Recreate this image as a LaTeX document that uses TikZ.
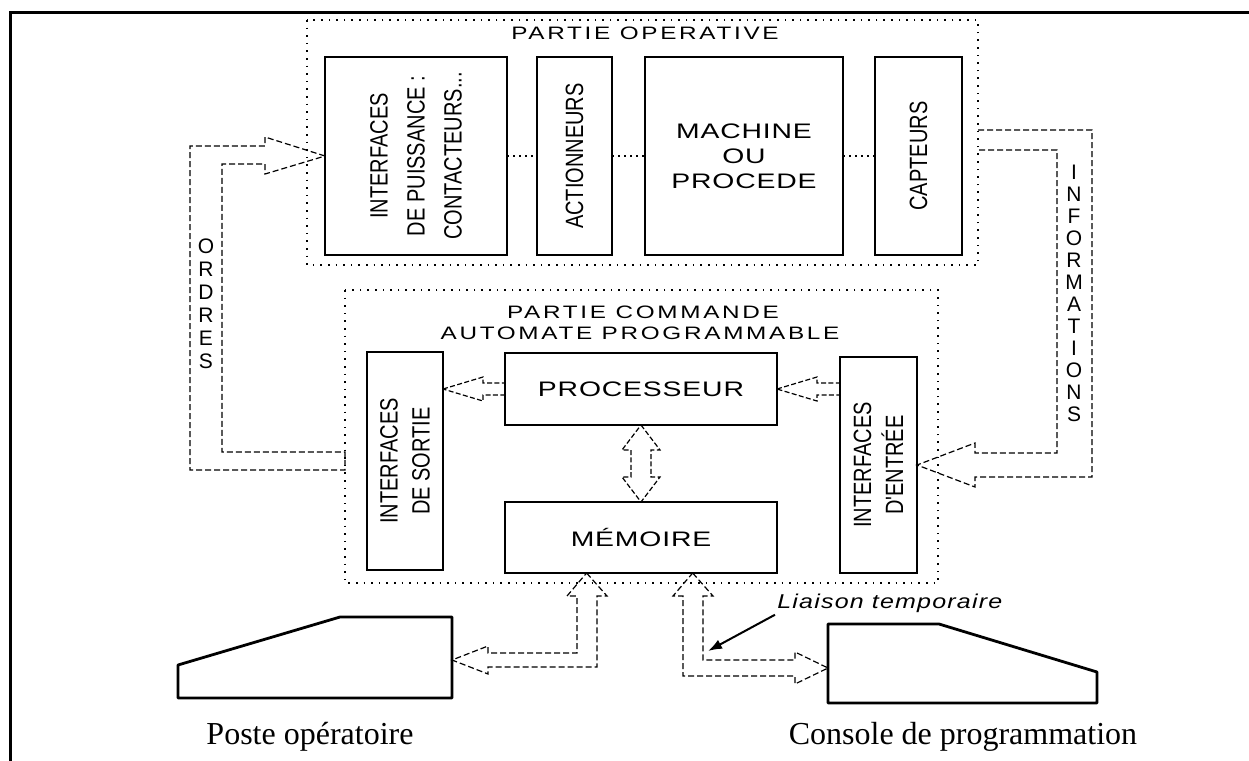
\documentclass[tikz,border=0pt]{standalone}
\usepackage{fontspec}
\setmainfont{Liberation Serif}
\setsansfont{Liberation Sans}
\newfontfamily\titrefont[FakeStretch=1.35,LetterSpace=15]{Liberation Sans}
\newfontfamily\blocfont[FakeStretch=1.35,LetterSpace=4]{Liberation Sans}
\newfontfamily\etroitfont[FakeStretch=0.8]{Liberation Sans}
\newfontfamily\liaisonfont[FakeStretch=1.25,LetterSpace=6]{Liberation Sans}
\usetikzlibrary{calc,arrows.meta}

\tikzset{
  bloc/.style={draw, line width=1.4pt, inner sep=0pt, outer sep=0pt},
  vtexte/.style={rotate=90, align=center, inner sep=0pt, font=\etroitfont\fontsize{12.5}{16}\selectfont},
  titre/.style={inner sep=0pt, font=\titrefont\fontsize{9}{10}\selectfont},
  cadre/.style={line width=0.6pt, dash pattern=on 0.8pt off 3pt},
  lien/.style={line width=0.6pt, dash pattern=on 1pt off 2pt},
  tuyau/.style={line width=0.6pt, dash pattern=on 3pt off 1.5pt, line join=miter},
  fleche/.style={line width=0.6pt, dash pattern=on 2.5pt off 1.2pt},
  lettres/.style={align=center, inner sep=0pt, font=\sffamily\fontsize{10.5}{11.5}\selectfont},
  legende/.style={inner sep=0pt, font=\fontsize{16}{18}\selectfont},
}

\begin{document}
\begin{tikzpicture}[x=0.5pt, y=-0.5pt]
\useasboundingbox (0,0) rectangle (1249,761);

% bord de la page
\draw[line width=1.5pt] (10,761) -- (10,12) -- (1249,12);

% partie operative
\draw[cadre] (307,20) rectangle (978,265);
\node[titre] (titreop) at (645,33) {PARTIE OPERATIVE};

\node[bloc, minimum width=91pt, minimum height=99pt] (puiss) at (416,156) {};
\node[vtexte, font=\etroitfont\fontsize{12.5}{18.5}\selectfont] (puisstxt) at (puiss) {INTERFACES\\DE PUISSANCE :\\CONTACTEURS...};
\node[bloc, minimum width=37.5pt, minimum height=99pt] (act) at (574.5,156) {};
\node[vtexte] (acttxt) at (act) {ACTIONNEURS};
\node[bloc, minimum width=99pt, minimum height=99pt, align=center,
      font=\blocfont\fontsize{10.5}{12.5}\selectfont] (mach) at (744,156) {MACHINE\\OU\\PROCEDE};
\node[bloc, minimum width=43.5pt, minimum height=99pt] (capt) at (918.5,156) {};
\node[vtexte] (capttxt) at (capt) {CAPTEURS};

\draw[lien] (puiss.east) -- (act.west);
\draw[lien] (act.east) -- (mach.west);
\draw[lien] (mach.east) -- (capt.west);

% partie commande
\draw[cadre] (345,290) rectangle (938,583);
\node[titre] (titrecom) at (643,312) {PARTIE COMMANDE};
\node[titre] (titreapi) at (640,333) {AUTOMATE PROGRAMMABLE};

\node[bloc, minimum width=38pt, minimum height=109pt] (sortie) at (405,461) {};
\node[vtexte] (sortietxt) at (sortie) {INTERFACES\\DE SORTIE};
\node[bloc, minimum width=136pt, minimum height=36pt,
      font=\blocfont\fontsize{10.5}{12}\selectfont] (proc) at (641,389) {PROCESSEUR};
\node[bloc, minimum width=136pt, minimum height=35.5pt,
      font=\blocfont\fontsize{10.5}{12}\selectfont] (mem) at (641,537.5) {MÉMOIRE};
\node[bloc, minimum width=38.5pt, minimum height=108pt] (entree) at (878.5,465) {};
\node[vtexte] (entreetxt) at (entree) {INTERFACES\\D'ENTRÉE};

% fleches creuses
\draw[fleche] (sortie.east |- proc.west) -- (483,377) -- (483,383) -- (505,383)
  -- (505,395) -- (483,395) -- (483,401) -- cycle;
\draw[fleche] (proc.east) -- (817,377) -- (817,383) -- (840,383)
  -- (840,395) -- (817,395) -- (817,401) -- cycle;
\draw[fleche] (proc.south) -- (660,450) -- (651,450) -- (651,477) -- (660,477)
  -- (mem.north) -- (622,477) -- (631,477) -- (631,450) -- (622,450) -- cycle;

% ordres et informations
\draw[tuyau] (puiss.west) -- (265,137) -- (265,146) -- (190,146) -- (190,470)
  -- (345,470) -- (345,452) -- (222,452) -- (222,164) -- (265,164) -- (265,174) -- cycle;
\node[lettres] (ordres) at (206,304) {O\\R\\D\\R\\E\\S};

\draw[tuyau] (978,130) -- (1092,130) -- (1092,477) -- (975,477) -- (975,487)
  -- (entree.east) -- (975,443) -- (975,453) -- (1057,453) -- (1057,150) -- (978,150);
\node[lettres, font=\sffamily\fontsize{10.5}{11}\selectfont] (infos) at (1074,293) {I\\N\\F\\O\\R\\M\\A\\T\\I\\O\\N\\S};

% poste operatoire et console
\coordinate (mgauche) at ($(mem.south west)!0.3!(mem.south east)$);
\coordinate (mdroite) at ($(mem.south west)!0.69!(mem.south east)$);
\coordinate (posteport) at (452,660);
\coordinate (consoleport) at (828,668);

\draw[line width=1.4pt, line join=round] (178,665) -- (340,617) -- (452,617) -- (452,698) -- (178,698) -- cycle;
\node[legende, anchor=base] (postetxt) at (310,744) {Poste opératoire};
\draw[line width=1.4pt, line join=round] (828,624) -- (939,624) -- (1097,672) -- (1097,703) -- (828,703) -- cycle;
\node[legende, anchor=base] (consoletxt) at (963,744) {Console de programmation};

\draw[tuyau] (mgauche) -- (607,596) -- (597,596) -- (597,667) -- (488,667) -- (488,674)
  -- (posteport) -- (488,646) -- (488,653) -- (577,653) -- (577,596) -- (567,596) -- cycle;
\draw[tuyau] (mdroite) -- (713,596) -- (703,596) -- (703,660) -- (795,660) -- (795,652)
  -- (consoleport) -- (795,684) -- (795,676) -- (683,676) -- (683,596) -- (673,596) -- cycle;

% liaison temporaire
\node[anchor=west, inner sep=1pt, font=\liaisonfont\itshape\fontsize{10}{12}\selectfont] (liaison) at (775,603) {Liaison temporaire};
\coordinate (liaisonpt) at (708,651);
\draw[line width=1pt, -{Latex[length=7pt,width=5pt]}] (liaison.south west) -- (liaisonpt);
\end{tikzpicture}
\end{document}
